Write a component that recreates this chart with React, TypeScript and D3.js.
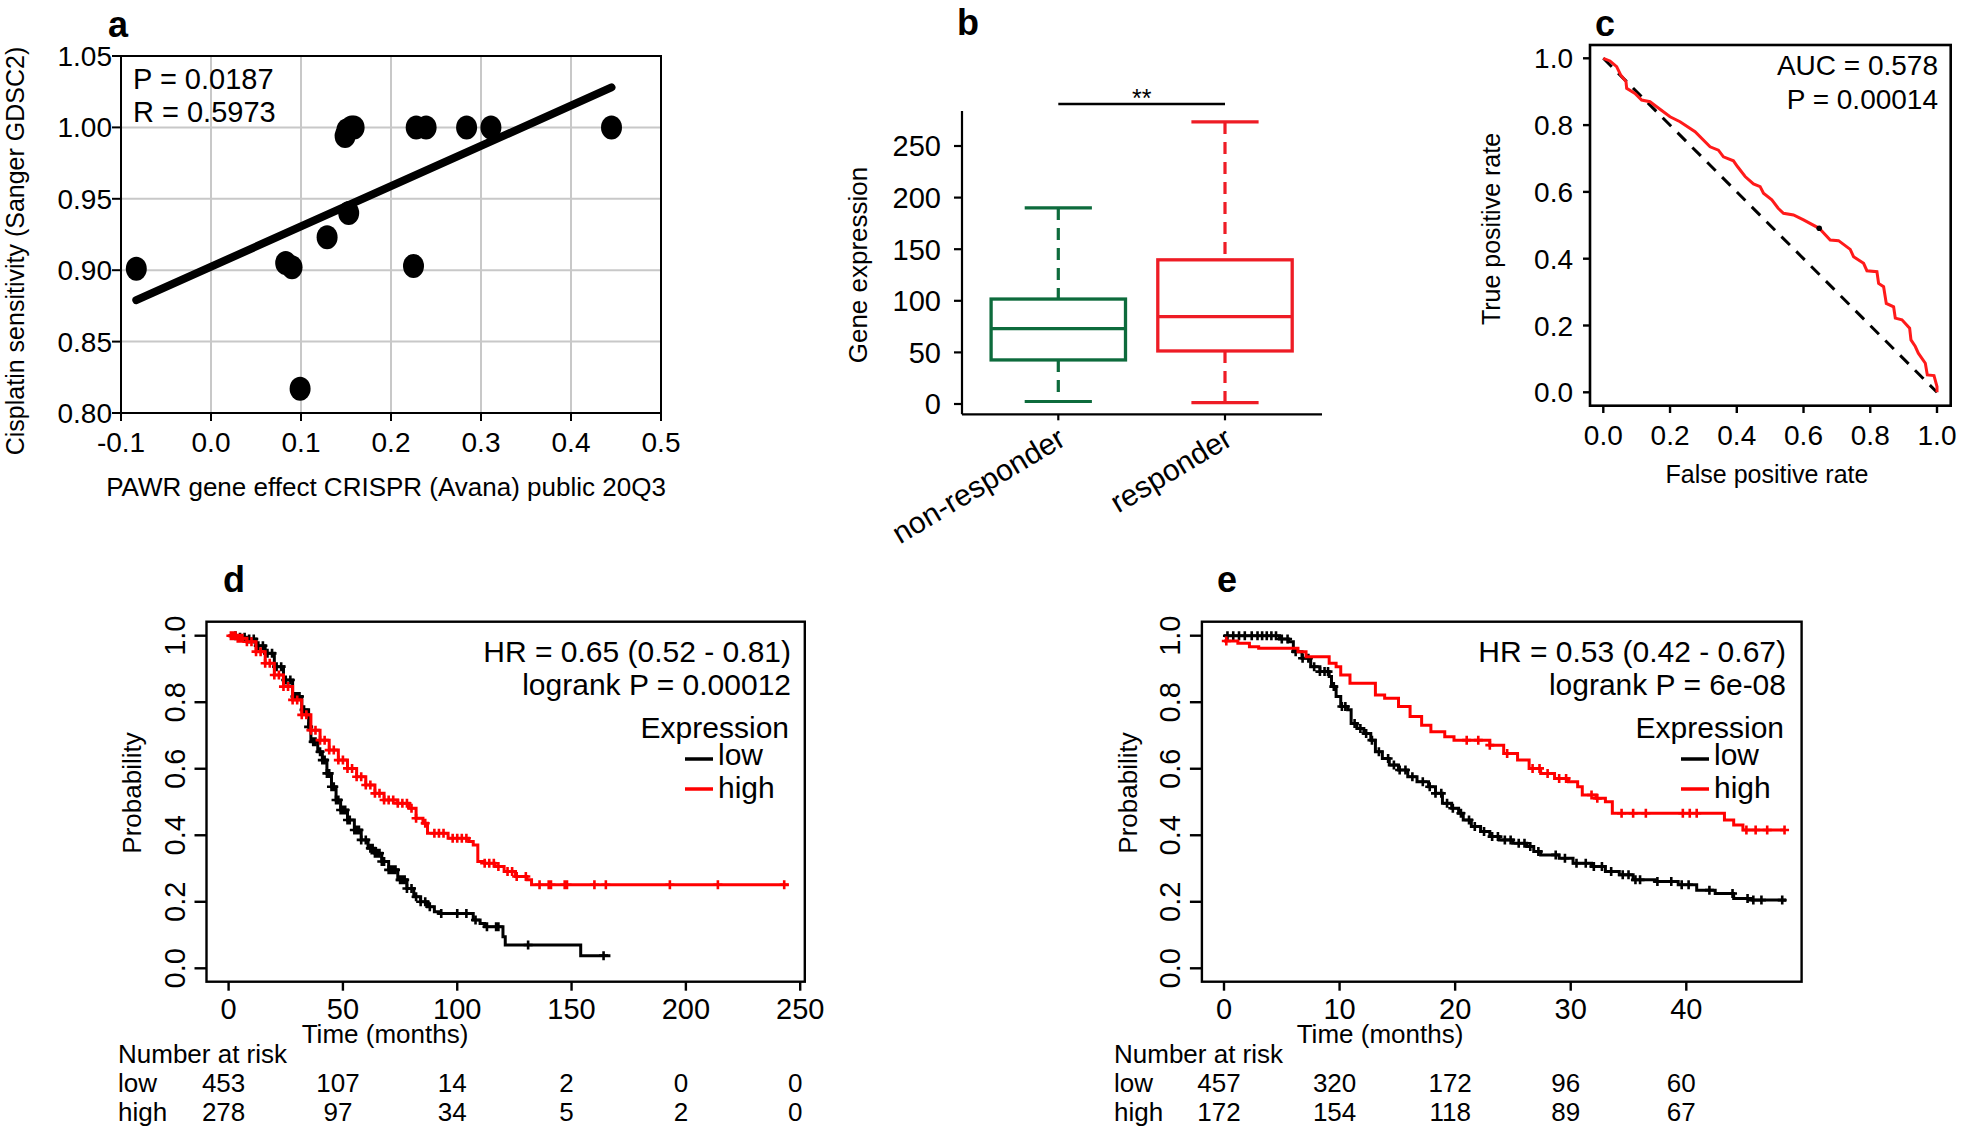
import React from 'react';
import * as d3 from 'd3';

const FONT = '"Liberation Sans", Arial, Helvetica, sans-serif';

// ---- panel a: scatter ----
const scatterX = [-0.083, 0.083, 0.09, 0.129, 0.099, 0.149, 0.151, 0.156, 0.159, 0.153, 0.225, 0.228, 0.239, 0.284, 0.311, 0.445];
const scatterY = [0.901, 0.905, 0.902, 0.923, 0.817, 0.994, 0.998, 1.0, 1.0, 0.94, 0.903, 1.0, 1.0, 1.0, 1.0, 1.0];
const fitX = [-0.083, 0.445];
const fitY = [0.879, 1.028];
const scatterXTicks = [-0.1, 0.0, 0.1, 0.2, 0.3, 0.4, 0.5];
const scatterYTicks = [0.8, 0.85, 0.9, 0.95, 1.0, 1.05];

// ---- panel b: boxplot ----
const boxGroups = ['non-responder', 'responder'];
const boxColors = ['#0d6b3c', '#ee1c25'];
const whiskerLow = [2.4, 1.3];
const q1 = [42.7, 51.4];
const median = [73, 84.6];
const q3 = [101.7, 139.7];
const whiskerHigh = [190, 273.3];
const boxYTicks = [0, 50, 100, 150, 200, 250];

// ---- panel c: ROC ----
const rocFpr = [0, 0.02, 0.04, 0.052, 0.068, 0.07, 0.095, 0.115, 0.14, 0.16, 0.2, 0.23, 0.275, 0.32, 0.345, 0.36, 0.39, 0.402, 0.425, 0.45, 0.47, 0.48, 0.505, 0.524, 0.54, 0.57, 0.6, 0.647, 0.68, 0.705, 0.74, 0.75, 0.78, 0.79, 0.82, 0.825, 0.84, 0.848, 0.87, 0.875, 0.895, 0.918, 0.922, 0.935, 0.944, 0.965, 0.971, 0.991, 1.0, 1.0];
const rocTpr = [1.0, 0.992, 0.975, 0.95, 0.93, 0.91, 0.895, 0.875, 0.87, 0.855, 0.825, 0.81, 0.78, 0.735, 0.725, 0.705, 0.693, 0.676, 0.646, 0.624, 0.616, 0.596, 0.576, 0.551, 0.536, 0.531, 0.516, 0.491, 0.456, 0.454, 0.428, 0.406, 0.386, 0.364, 0.361, 0.326, 0.316, 0.266, 0.256, 0.222, 0.217, 0.192, 0.157, 0.137, 0.117, 0.087, 0.052, 0.05, 0.017, 0];
const rocDot = [0.647, 0.491];
const rocTicks = [0, 0.2, 0.4, 0.6, 0.8, 1.0];

// ---- panel d: survival ----
const dLowTime = [0, 5, 8, 12, 16, 20, 24, 28, 32, 35, 36, 39, 41, 43, 45, 47, 49, 52, 55, 58, 61, 64, 67, 70, 74, 78, 81, 84, 87, 90, 92, 105, 107, 110, 112, 120, 121, 154, 167];
const dLowSurv = [1, 0.995, 0.99, 0.97, 0.947, 0.907, 0.867, 0.817, 0.777, 0.726, 0.681, 0.651, 0.626, 0.586, 0.546, 0.506, 0.476, 0.446, 0.416, 0.386, 0.361, 0.346, 0.321, 0.296, 0.266, 0.24, 0.215, 0.2, 0.185, 0.17, 0.165, 0.165, 0.145, 0.135, 0.125, 0.095, 0.07, 0.038, 0.038];
const dLowCensor = [3, 5, 7, 9, 11, 13, 15, 17, 19, 21, 23, 25, 27, 29, 30, 31, 33, 35, 37, 38, 40, 41, 42, 43, 44, 45, 46, 47, 48, 49, 50, 51, 52, 53, 55, 56, 57, 58, 60, 62, 63, 64, 65, 66, 67, 68, 70, 71, 72, 73, 75, 76, 77, 78, 80, 82, 84, 86, 88, 93, 100, 104, 108, 113, 117, 118, 131, 164];
const dHighTime = [0, 4, 8, 12, 16, 20, 24, 28, 32, 36, 40, 44, 48, 52, 56, 60, 64, 68, 74, 79, 82, 85, 87, 94, 96, 105, 107, 109, 112, 116.5, 120.5, 125.5, 130.5, 132.5, 245];
const dHighSurv = [1, 0.992, 0.982, 0.952, 0.917, 0.882, 0.847, 0.807, 0.762, 0.716, 0.686, 0.656, 0.626, 0.601, 0.576, 0.551, 0.526, 0.506, 0.496, 0.481, 0.451, 0.436, 0.406, 0.406, 0.391, 0.381, 0.371, 0.321, 0.316, 0.306, 0.291, 0.276, 0.266, 0.251, 0.251];
const dHighCensor = [1, 2, 3, 4, 5, 6, 8, 10, 12, 14, 16, 18, 20, 22, 24, 26, 28, 30, 32, 34, 36, 38, 40, 42, 44, 46, 48, 50, 52, 54, 56, 58, 60, 62, 64, 66, 68, 70, 72, 74, 76, 78, 80, 82, 86, 90, 92, 94, 98, 100, 102, 104, 112, 114, 116, 118, 122, 124, 126, 130, 136, 140, 141, 147, 148, 160, 165, 193, 214, 243];
const dTicks = [0, 50, 100, 150, 200, 250];
const dRiskLow = [453, 107, 14, 2, 0, 0];
const dRiskHigh = [278, 97, 34, 5, 2, 0];

// ---- panel e: survival ----
const eLowTime = [0, 4.8, 5.6, 6, 6.75, 7.5, 8.3, 9.1, 9.3, 9.7, 10.1, 10.7, 11, 11.5, 12.1, 12.7, 13.1, 13.7, 14.3, 15.1, 15.9, 16.7, 17.7, 18.3, 18.9, 19.7, 20.3, 20.7, 21.4, 22.2, 23, 23.8, 25, 26.2, 26.8, 27.4, 29, 30.2, 31.8, 33, 34.2, 35.4, 37.3, 39.3, 40.9, 42.5, 44.1, 45.7, 48.5];
const eLowSurv = [1, 0.99, 0.982, 0.952, 0.932, 0.907, 0.892, 0.877, 0.847, 0.817, 0.787, 0.777, 0.736, 0.721, 0.706, 0.686, 0.651, 0.631, 0.611, 0.596, 0.576, 0.561, 0.546, 0.526, 0.496, 0.481, 0.466, 0.446, 0.426, 0.411, 0.396, 0.386, 0.376, 0.366, 0.351, 0.341, 0.331, 0.316, 0.306, 0.291, 0.281, 0.266, 0.261, 0.251, 0.235, 0.225, 0.21, 0.205, 0.2];
const eLowCensor = [0.3, 0.8, 1.3, 1.8, 2.4, 2.9, 3.3, 3.7, 4.1, 4.5, 5, 5.5, 6.2, 6.8, 7.3, 7.8, 8.3, 8.7, 9, 9.5, 10.2, 10.5, 11.3, 11.8, 12.3, 12.8, 13.4, 14.2, 14.7, 15.2, 15.7, 16.3, 17.2, 17.8, 18.3, 18.8, 19.3, 19.8, 20.5, 21.2, 21.7, 22.5, 23.2, 23.7, 24.3, 24.8, 25.5, 26, 26.5, 27.2, 28.7, 29.5, 30.5, 31.3, 32, 32.7, 33.5, 34.5, 35, 35.6, 36, 37.5, 38.7, 39.6, 40.2, 42, 44, 45.3, 45.8, 46.5, 48.3];
const eHighTime = [0, 1.2, 2.2, 3, 6.4, 7.1, 9.1, 9.7, 10.1, 10.9, 13.1, 13.9, 15.1, 16.1, 17.1, 17.9, 19.1, 19.9, 23, 24.2, 25.4, 26.4, 27.4, 28.6, 29.8, 30.6, 31, 32.2, 33, 33.6, 43.3, 44.1, 44.9, 48.5];
const eHighSurv = [0.984, 0.977, 0.967, 0.962, 0.952, 0.937, 0.917, 0.907, 0.882, 0.857, 0.822, 0.812, 0.787, 0.757, 0.731, 0.711, 0.696, 0.686, 0.671, 0.646, 0.626, 0.601, 0.586, 0.571, 0.561, 0.546, 0.521, 0.511, 0.501, 0.466, 0.446, 0.431, 0.416, 0.416];
const eHighCensor = [0.2, 21, 22, 23, 24.5, 26.7, 27.3, 28, 29, 29.6, 31.8, 32.3, 34.4, 35.4, 36.5, 39.7, 40.3, 40.9, 45.2, 46, 47, 48.5];
const eTicks = [0, 10, 20, 30, 40];
const eRiskLow = [457, 320, 172, 96, 60];
const eRiskHigh = [172, 154, 118, 89, 67];

const probTicks = [0, 0.2, 0.4, 0.6, 0.8, 1.0];

// R-style labels use a plain hyphen for negatives
const fmt1 = (v: number) => d3.format('.1f')(v).replace('\u2212', '-');

function PanelA() {
  const x = d3.scaleLinear().domain([-0.1, 0.5]).range([121, 661]);
  const y = d3.scaleLinear().domain([0.8, 1.05]).range([413, 56]);
  const [x0, x1] = x.range();
  const [y0, y1] = y.range();
  const fit = d3.line<number>().x(d => x(fitX[d])).y(d => y(fitY[d]));
  return (
    <g fontFamily={FONT}>
      <text x={108} y={37} fontSize={36} fontWeight="bold">a</text>
      {scatterXTicks.map(t => (
        <line key={'gx' + t} x1={x(t)} x2={x(t)} y1={y0} y2={y1} stroke="#c8c8c8" strokeWidth={2} />
      ))}
      {scatterYTicks.map(t => (
        <line key={'gy' + t} x1={x0} x2={x1} y1={y(t)} y2={y(t)} stroke="#c8c8c8" strokeWidth={2} />
      ))}
      <rect x={x0} y={y1} width={x1 - x0} height={y0 - y1} fill="none" stroke="#000" strokeWidth={2} />
      {scatterXTicks.map(t => (
        <g key={'tx' + t}>
          <line x1={x(t)} x2={x(t)} y1={y0} y2={y0 + 8} stroke="#000" strokeWidth={2} />
          <text x={x(t)} y={452} fontSize={28} textAnchor="middle">{fmt1(t)}</text>
        </g>
      ))}
      {scatterYTicks.map(t => (
        <g key={'ty' + t}>
          <line x1={x0 - 9} x2={x0} y1={y(t)} y2={y(t)} stroke="#000" strokeWidth={2} />
          <text x={112} y={y(t)} dy="0.36em" fontSize={28} textAnchor="end">{d3.format('.2f')(t)}</text>
        </g>
      ))}
      <path d={fit([0, 1]) || ''} stroke="#000" strokeWidth={8} fill="none" strokeLinecap="round" />
      {scatterX.map((v, i) => (
        <ellipse key={i} cx={x(v)} cy={y(scatterY[i])} rx={10.5} ry={12} fill="#000" />
      ))}
      <text x={133} y={89} fontSize={29}>P = 0.0187</text>
      <text x={133} y={122} fontSize={29}>R = 0.5973</text>
      <text x={386} y={496} fontSize={26} textAnchor="middle">PAWR gene effect CRISPR (Avana) public 20Q3</text>
      <text transform="translate(24,251) rotate(-90)" fontSize={25} textAnchor="middle">Cisplatin sensitivity (Sanger GDSC2)</text>
    </g>
  );
}

function PanelB() {
  const y = d3.scaleLinear().domain([0, 250]).range([404, 146]);
  const x = d3.scaleLinear().domain([0, 1]).range([1058.3, 1225]);
  const axisX = 962;
  const axisY = y(-10);
  const half = 67.2;
  return (
    <g fontFamily={FONT}>
      <text x={957} y={35} fontSize={36} fontWeight="bold">b</text>
      <line x1={axisX} x2={axisX} y1={y(284)} y2={axisY} stroke="#000" strokeWidth={2.2} />
      <line x1={axisX} x2={1322} y1={axisY} y2={axisY} stroke="#000" strokeWidth={2.2} />
      {boxYTicks.map(t => (
        <g key={t}>
          <line x1={axisX - 8} x2={axisX} y1={y(t)} y2={y(t)} stroke="#000" strokeWidth={2.2} />
          <text x={941} y={y(t)} dy="0.36em" fontSize={29} textAnchor="end">{t}</text>
        </g>
      ))}
      {boxGroups.map((g, i) => {
        const cx = x(i);
        const c = boxColors[i];
        return (
          <g key={g}>
            <line x1={cx} x2={cx} y1={axisY} y2={axisY + 6} stroke="#000" strokeWidth={2.2} />
            <line x1={cx} x2={cx} y1={y(whiskerHigh[i])} y2={y(q3[i])} stroke={c} strokeWidth={3.2} strokeDasharray="12 8" />
            <line x1={cx} x2={cx} y1={y(q1[i])} y2={y(whiskerLow[i])} stroke={c} strokeWidth={3.2} strokeDasharray="12 8" />
            <line x1={cx - half / 2} x2={cx + half / 2} y1={y(whiskerHigh[i])} y2={y(whiskerHigh[i])} stroke={c} strokeWidth={3.2} />
            <line x1={cx - half / 2} x2={cx + half / 2} y1={y(whiskerLow[i])} y2={y(whiskerLow[i])} stroke={c} strokeWidth={3.2} />
            <rect x={cx - half} y={y(q3[i])} width={2 * half} height={y(q1[i]) - y(q3[i])} fill="#fff" stroke={c} strokeWidth={3.3} />
            <line x1={cx - half} x2={cx + half} y1={y(median[i])} y2={y(median[i])} stroke={c} strokeWidth={3.3} />
            <text transform={`translate(${cx + 9},444) rotate(-31)`} fontSize={30} textAnchor="end">{g}</text>
          </g>
        );
      })}
      <line x1={x(0)} x2={x(1)} y1={104} y2={104} stroke="#000" strokeWidth={2.3} />
      <text x={(x(0) + x(1)) / 2} y={107} fontSize={25} textAnchor="middle">**</text>
      <text transform="translate(867,265) rotate(-90)" fontSize={26} textAnchor="middle">Gene expression</text>
    </g>
  );
}

function PanelC() {
  const x = d3.scaleLinear().domain([0, 1]).range([1603.3, 1937]);
  const y = d3.scaleLinear().domain([0, 1]).range([392.3, 58.3]);
  const roc = d3.line<number>().x(d => x(rocFpr[d])).y(d => y(rocTpr[d]));
  return (
    <g fontFamily={FONT}>
      <text x={1595} y={36} fontSize={36} fontWeight="bold">c</text>
      <rect x={1590} y={45} width={360.7} height={360.7} fill="none" stroke="#000" strokeWidth={2.6} />
      {rocTicks.map(t => (
        <g key={t}>
          <line x1={x(t)} x2={x(t)} y1={405.7} y2={413} stroke="#000" strokeWidth={2.4} />
          <text x={x(t)} y={445} fontSize={28} textAnchor="middle">{fmt1(t)}</text>
          <line x1={1583} x2={1590} y1={y(t)} y2={y(t)} stroke="#000" strokeWidth={2.4} />
          <text x={1573} y={y(t)} dy="0.36em" fontSize={28} textAnchor="end">{fmt1(t)}</text>
        </g>
      ))}
      <line x1={x(0)} y1={y(1)} x2={x(1)} y2={y(0)} stroke="#000" strokeWidth={3} strokeDasharray="12 9" />
      <path d={roc(d3.range(rocFpr.length)) || ''} fill="none" stroke="#ff1a1a" strokeWidth={3} />
      <circle cx={x(rocDot[0])} cy={y(rocDot[1])} r={2.8} fill="#000" />
      <text x={1938} y={75} fontSize={28} textAnchor="end">AUC = 0.578</text>
      <text x={1938} y={109} fontSize={28} textAnchor="end">P = 0.00014</text>
      <text x={1767} y={483} fontSize={25} textAnchor="middle">False positive rate</text>
      <text transform="translate(1500,229) rotate(-90)" fontSize={25} textAnchor="middle">True positive rate</text>
    </g>
  );
}

type Curve = { time: number[]; surv: number[]; censor: number[]; color: string };

type KMProps = {
  label: string;
  labelX: number;
  box: [number, number];
  xDomain: [number, number];
  xRange: [number, number];
  ticks: number[];
  curves: Curve[];
  hr: string;
  logrank: string;
  legendRight: number;
  legendLineX: number;
  probLabelX: number;
  yTickLabelX: number;
  riskLabelX: number;
  timeLabelX: number;
  riskLow: number[];
  riskHigh: number[];
};

function KMPanel(p: KMProps) {
  const x = d3.scaleLinear().domain(p.xDomain).range(p.xRange);
  const y = d3.scaleLinear().domain([0, 1]).range([968.3, 635.7]);
  const top = 621.7;
  const bottom = 981.7;
  const [bl, br] = p.box;
  const stepAt = (c: Curve, t: number) => c.surv[Math.max(0, d3.bisectRight(c.time, t) - 1)];
  return (
    <g fontFamily={FONT}>
      <text x={p.labelX} y={592} fontSize={36} fontWeight="bold">{p.label}</text>
      <rect x={bl} y={top} width={br - bl} height={bottom - top} fill="none" stroke="#000" strokeWidth={2.4} />
      {p.ticks.map(t => (
        <g key={'x' + t}>
          <line x1={x(t)} x2={x(t)} y1={bottom} y2={bottom + 9} stroke="#000" strokeWidth={2.4} />
          <text x={x(t)} y={1019} fontSize={29} textAnchor="middle">{t}</text>
        </g>
      ))}
      {probTicks.map(t => (
        <g key={'y' + t}>
          <line x1={bl - 12} x2={bl} y1={y(t)} y2={y(t)} stroke="#000" strokeWidth={2.4} />
          <text transform={`translate(${p.yTickLabelX},${y(t)}) rotate(-90)`} fontSize={29} textAnchor="middle">{fmt1(t)}</text>
        </g>
      ))}
      {p.curves.map((c, ci) => {
        const line = d3.line<number>().x(i => x(c.time[i])).y(i => y(c.surv[i])).curve(d3.curveStepAfter);
        const marks = c.censor.map(t => {
          const cx = x(t);
          const cy = y(stepAt(c, t));
          return `M${cx - 4.5},${cy}h9M${cx},${cy - 4.5}v9`;
        }).join('');
        return (
          <g key={ci}>
            <path d={line(d3.range(c.time.length)) || ''} fill="none" stroke={c.color} strokeWidth={3} />
            <path d={marks} fill="none" stroke={c.color} strokeWidth={2.6} />
          </g>
        );
      })}
      <text x={p.legendRight} y={662} fontSize={30} textAnchor="end">{p.hr}</text>
      <text x={p.legendRight} y={695} fontSize={30} textAnchor="end">{p.logrank}</text>
      <text x={p.legendRight - 2} y={738} fontSize={30} textAnchor="end">Expression</text>
      <line x1={p.legendLineX} x2={p.legendLineX + 28} y1={759} y2={759} stroke="#000" strokeWidth={3.5} />
      <line x1={p.legendLineX} x2={p.legendLineX + 28} y1={789} y2={789} stroke="#ff0000" strokeWidth={3.5} />
      <text x={p.legendLineX + 33} y={765} fontSize={30}>low</text>
      <text x={p.legendLineX + 33} y={798} fontSize={30}>high</text>
      <text transform={`translate(${p.probLabelX},793) rotate(-90)`} fontSize={26} textAnchor="middle">Probability</text>
      <text x={p.timeLabelX} y={1043} fontSize={26} textAnchor="middle">Time (months)</text>
      <text x={p.riskLabelX} y={1063} fontSize={26}>Number at risk</text>
      <text x={p.riskLabelX} y={1092} fontSize={26}>low</text>
      <text x={p.riskLabelX} y={1121} fontSize={26}>high</text>
      {p.riskLow.map((v, i) => (
        <text key={'rl' + i} x={x(p.ticks[i]) - 5} y={1092} fontSize={26} textAnchor="middle">{v}</text>
      ))}
      {p.riskHigh.map((v, i) => (
        <text key={'rh' + i} x={x(p.ticks[i]) - 5} y={1121} fontSize={26} textAnchor="middle">{v}</text>
      ))}
    </g>
  );
}

export default function App() {
  return (
    <svg width={1961} height={1132} style={{ position: 'absolute', left: 0, top: 0, background: '#fff' }}>
      <rect width={1961} height={1132} fill="#fff" />
      <PanelA />
      <PanelB />
      <PanelC />
      <KMPanel
        label="d"
        labelX={223}
        box={[206.5, 804.8]}
        xDomain={[0, 250]}
        xRange={[228.6, 800.2]}
        ticks={dTicks}
        curves={[
          { time: dLowTime, surv: dLowSurv, censor: dLowCensor, color: '#000' },
          { time: dHighTime, surv: dHighSurv, censor: dHighCensor, color: '#ff0000' },
        ]}
        hr="HR = 0.65 (0.52 - 0.81)"
        logrank="logrank P = 0.00012"
        legendRight={791}
        legendLineX={685}
        probLabelX={141}
        yTickLabelX={185}
        riskLabelX={118}
        timeLabelX={385}
        riskLow={dRiskLow}
        riskHigh={dRiskHigh}
      />
      <KMPanel
        label="e"
        labelX={1217}
        box={[1201.9, 1801.6]}
        xDomain={[0, 40]}
        xRange={[1224, 1686.3]}
        ticks={eTicks}
        curves={[
          { time: eLowTime, surv: eLowSurv, censor: eLowCensor, color: '#000' },
          { time: eHighTime, surv: eHighSurv, censor: eHighCensor, color: '#ff0000' },
        ]}
        hr="HR = 0.53 (0.42 - 0.67)"
        logrank="logrank P = 6e-08"
        legendRight={1786}
        legendLineX={1681}
        probLabelX={1137}
        yTickLabelX={1180}
        riskLabelX={1114}
        timeLabelX={1380}
        riskLow={eRiskLow}
        riskHigh={eRiskHigh}
      />
    </svg>
  );
}
